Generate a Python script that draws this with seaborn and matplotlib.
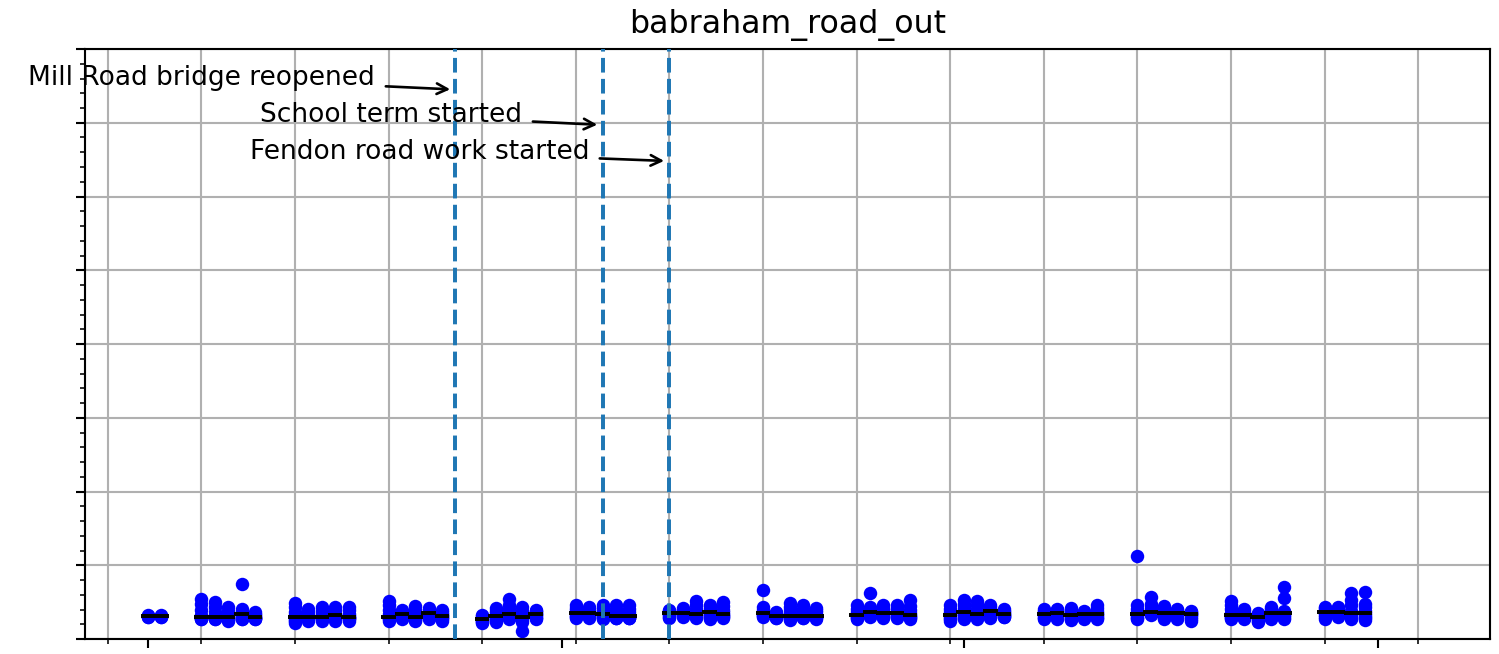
import pandas as pd
import numpy as np
import matplotlib
matplotlib.use("Agg")
import matplotlib.pyplot as plt
import matplotlib.dates as mdates
from matplotlib.ticker import MultipleLocator
import seaborn as sns

# ── dados ─────────────────────────────────────────────────────────────────────
TITLE = "babraham_road_out"

days = [
    "2019-08-01", "2019-08-02",
    "2019-08-05", "2019-08-06", "2019-08-07", "2019-08-08", "2019-08-09",
    "2019-08-12", "2019-08-13", "2019-08-14", "2019-08-15", "2019-08-16",
    "2019-08-19", "2019-08-20", "2019-08-21", "2019-08-22", "2019-08-23",
    "2019-08-26", "2019-08-27", "2019-08-28", "2019-08-29", "2019-08-30",
    "2019-09-02", "2019-09-03", "2019-09-04", "2019-09-05", "2019-09-06",
    "2019-09-09", "2019-09-10", "2019-09-11", "2019-09-12", "2019-09-13",
    "2019-09-16", "2019-09-17", "2019-09-18", "2019-09-19", "2019-09-20",
    "2019-09-23", "2019-09-24", "2019-09-25", "2019-09-26", "2019-09-27",
    "2019-09-30", "2019-10-01", "2019-10-02", "2019-10-03", "2019-10-04",
    "2019-10-07", "2019-10-08", "2019-10-09", "2019-10-10", "2019-10-11",
    "2019-10-14", "2019-10-15", "2019-10-16", "2019-10-17", "2019-10-18",
    "2019-10-21", "2019-10-22", "2019-10-23", "2019-10-24", "2019-10-25",
    "2019-10-28", "2019-10-29", "2019-10-30", "2019-10-31",
]

# tempos de percurso por dia (unidades do eixo y, 0-800)
journey_times = [
    [33, 31.5, 31, 30.5, 29.5], [33, 31.5, 31, 30, 29.5],
    [54, 47, 40, 33, 30, 29, 28, 27, 26.5],
    [49.5, 43, 37, 32, 30, 29, 28, 27, 26.5],
    [44, 38, 33, 30, 30, 28, 27, 26, 25],
    [74, 41, 37, 34, 33.5, 31, 29, 27.5, 26.5],
    [36, 34, 32, 30.5, 30, 29, 28, 27, 26.5],
    [49, 43, 37, 32, 30, 28, 26, 24, 22],
    [41, 37, 33, 31, 30, 29, 28, 26.5, 25],
    [43, 38, 34, 31, 30, 29, 28, 26.5, 25],
    [44, 39, 35, 33, 32.5, 31, 29, 27, 25],
    [44, 39, 34, 31, 30, 29, 28, 26.5, 25],
    [52, 46, 40, 34, 30, 29, 28, 26.5, 25],
    [39, 37, 35, 34, 33.5, 32, 30, 28, 26.5],
    [44.5, 39, 34, 31, 29.5, 28.5, 27, 25.5, 24.5],
    [42, 39, 37, 35.5, 35, 33, 31, 28.5, 26.5],
    [39, 36.5, 34, 32, 31, 30, 28.5, 27, 25],
    [33, 31, 29, 27.5, 27, 26, 24.5, 23, 21.5],
    [42, 38, 35, 32, 31, 30, 28, 25.5, 23],
    [54, 46, 41, 37, 33.5, 32, 30, 28.5, 27],
    [43, 38, 34, 31, 30, 28.5, 26, 23, 11],
    [40, 38, 36, 34, 33.5, 32, 30, 28, 26.5],
    [45.5, 42, 39, 36, 35, 33, 31, 29.5, 28.5],
    [44, 41, 38, 36, 35, 33, 31, 29.5, 28.5],
    [46.5, 42, 38, 35, 33.5, 32, 30, 28, 26.5],
    [45.5, 41, 37, 33, 31, 30, 29, 28.5, 28],
    [46, 41, 37, 33, 31, 30, 29, 28.5, 28],
    [39, 37.5, 36.5, 35.5, 35, 33.5, 32, 30, 28.5],
    [42, 40, 38, 36, 35, 33.5, 32, 31, 30],
    [51.5, 46, 41, 36, 33.5, 32, 31, 30, 28.5],
    [46.5, 43, 40, 38, 37, 34, 31, 28.5, 26.5],
    [50, 45, 40, 36, 34, 32.5, 31, 30, 28.5],
    [66.5, 43.5, 40, 37, 35, 33.5, 32, 31, 30],
    [36.5, 35, 33.5, 32, 31.5, 31, 30, 29, 28.5],
    [49, 44, 39, 34, 31.5, 30.5, 29, 27.5, 25.5],
    [45.5, 41, 37, 33.5, 31.5, 31, 30, 29, 28.5],
    [42.5, 39, 36, 33, 31.5, 30.5, 29.5, 28, 26.5],
    [45.5, 41, 37, 34, 32.5, 31, 29.5, 28, 26.5],
    [62, 44, 41, 38, 36, 34.5, 33, 31.5, 30],
    [45.5, 42, 39, 36, 35, 33, 31, 29.5, 28],
    [45.5, 42, 39, 36.5, 35.5, 33.5, 31.5, 29.5, 28],
    [53, 45, 40, 35, 32.5, 31, 29.5, 28, 26.5],
    [45.5, 41, 37, 34, 32.5, 31, 29, 26.5, 24.5],
    [53.5, 48, 43, 39, 36, 34, 31.5, 29, 26.5],
    [51.5, 46, 41, 36.5, 34, 32, 30, 28, 26.5],
    [46.5, 43, 40.5, 38.5, 38, 35, 32, 30, 28],
    [40.5, 38.5, 36.5, 34.5, 33.5, 32.5, 31.5, 30.5, 30],
    [40.5, 38.5, 36, 34, 33.5, 32, 30, 28, 26.5],
    [40.5, 39, 37.5, 36, 35.5, 33.5, 31, 28.5, 26.5],
    [42, 39, 36, 34, 32.5, 31, 29, 27, 25.5],
    [38.5, 37, 35.5, 34.5, 34, 32.5, 30.5, 28.5, 27],
    [46, 42, 38.5, 35.5, 34, 32.5, 30.5, 28.5, 27],
    [113, 46.5, 41, 36, 33.5, 32, 30, 28, 26.5],
    [56.5, 48, 43, 39, 36, 35, 34, 33.5, 33],
    [44.5, 41, 38, 36, 35, 33, 31, 29, 27],
    [40.5, 39, 37.5, 36, 35.5, 33.5, 31, 29, 27],
    [38.5, 37, 35.5, 34, 33.5, 32, 30, 27.5, 25],
    [51.5, 46, 40.5, 35.5, 32.5, 31, 29.5, 28, 26.5],
    [40.5, 38, 35.5, 33.5, 32.5, 31.5, 30, 28.5, 27],
    [35, 33.5, 32, 30.5, 29.5, 28, 26.5, 25, 23],
    [44, 41, 38, 36, 35, 33, 31, 28.5, 26.5],
    [70, 55, 38, 36.5, 35.5, 33, 31, 28.5, 26.5],
    [44, 41.5, 39, 37.5, 37, 35, 32.5, 30, 27],
    [44, 41.5, 39, 37, 36, 34.5, 33, 31.5, 30],
    [62, 53, 46, 38, 35.5, 33.5, 31, 29, 27.5],
    [64, 47.5, 43, 38.5, 35, 33, 30.5, 28, 25.5],
]

events = ["2019-08-24", "2019-09-04", "2019-09-09"]
event_labels = ["Mill Road bridge reopened", "School term started", "Fendon road work started"]
arrow_tip_y = [745, 697, 648]
label_y = [761, 711, 661]

# ── tabela longa ──────────────────────────────────────────────────────────────
df = pd.DataFrame({"date": pd.to_datetime(np.repeat(days, [len(v) for v in journey_times])),
                   "time": np.concatenate(journey_times)})
med = df.groupby("date")["time"].median()

fig = plt.figure(figsize=(1499 / 190, 654 / 190), dpi=190)
ax = fig.add_axes([85 / 1499, 15 / 654, 1405 / 1499, 590 / 654])

sns.scatterplot(data=df, x="date", y="time", color="blue", s=26, linewidth=0,
                ax=ax, zorder=2, legend=False)
half = pd.Timedelta(hours=13)
ax.hlines(med.values, med.index - half, med.index + half, color="black", lw=1.5, zorder=2.5)

for d, lab, ty, ly in zip(pd.to_datetime(events), event_labels, arrow_tip_y, label_y):
    ax.axvline(d, ls="--", color="C0", lw=1.5, zorder=3)
    ax.annotate(lab, xy=(d, ty), xytext=(d - pd.Timedelta(days=6), ly),
                ha="right", va="center", fontsize=10,
                arrowprops=dict(arrowstyle="->", color="black", lw=1))

ax.set_xlim(pd.Timestamp("2019-07-27 07:00"), pd.Timestamp("2019-11-09 09:00"))
ax.set_ylim(0, 800)
ax.xaxis.set_major_locator(mdates.MonthLocator())
ax.xaxis.set_minor_locator(mdates.WeekdayLocator(byweekday=mdates.MO))
ax.yaxis.set_major_locator(MultipleLocator(100))
ax.yaxis.set_minor_locator(MultipleLocator(20))
ax.tick_params(labelbottom=False, labelleft=False)
ax.grid(which="minor", axis="x", color="#b0b0b0", lw=0.8)
ax.grid(which="major", axis="y", color="#b0b0b0", lw=0.8)
ax.set_xlabel(""); ax.set_ylabel("")
ax.set_title(TITLE, fontsize=12)

plt.savefig("out.png", dpi=190)
